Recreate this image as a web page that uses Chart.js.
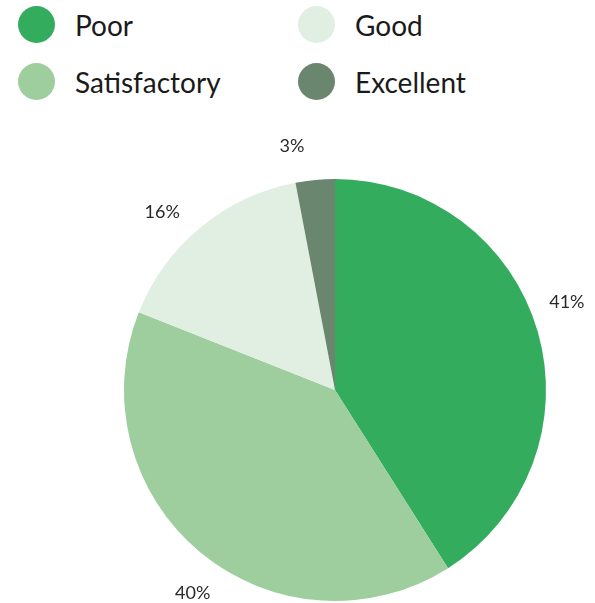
<!DOCTYPE html>
<html>
<head>
<meta charset="utf-8">
<script src="https://cdn.jsdelivr.net/npm/chart.js@4"></script>
<style>
  html, body { margin: 0; padding: 0; background: #fff; overflow: hidden; }
  body { width: 595px; height: 603px; position: relative; font-family: "Lato", sans-serif; }
  #legend { position: absolute; left: 18px; top: 6px; display: grid;
    grid-template-columns: 280px 280px; row-gap: 20px; }
  .item { display: flex; align-items: center; height: 37px; font-size: 28px; color: #1a1a1a; }
  .dot { width: 37px; height: 37px; border-radius: 50%; margin-right: 20px; }
  #wrap { position: absolute; left: 75px; top: 130px; width: 520px; height: 520px; }
</style>
</head>
<body>
<div id="legend"></div>
<div id="wrap"><canvas id="pieChart"></canvas></div>
<script>
// rating shares (%)
const labels = ["Poor", "Satisfactory", "Good", "Excellent"];
const values = [41, 40, 16, 3];
const colors = ["#34AC5E", "#9ECD9E", "#E0EFE1", "#6B866E"];

// legend laid out in two columns: Poor / Good on top, Satisfactory / Excellent below
const legendOrder = [0, 2, 1, 3];
const legendEl = document.getElementById("legend");
legendOrder.forEach((i) => {
  const item = document.createElement("div");
  item.className = "item";
  item.innerHTML = '<span class="dot" style="background:' + colors[i] + '"></span>' + labels[i];
  legendEl.appendChild(item);
});

// percentage labels outside each slice, nudged slightly counter-clockwise
const outsideLabels = {
  id: "outsideLabels",
  afterDatasetsDraw(chart) {
    const { ctx } = chart;
    const meta = chart.getDatasetMeta(0);
    ctx.save();
    ctx.font = "18px Lato, sans-serif";
    ctx.fillStyle = "#2a2a2a";
    ctx.textAlign = "center";
    ctx.textBaseline = "middle";
    meta.data.forEach((arc, i) => {
      const mid = (arc.startAngle + arc.endAngle) / 2 - 0.08;
      const r = arc.outerRadius + 37;
      ctx.fillText(values[i] + "%", arc.x + Math.cos(mid) * r, arc.y + Math.sin(mid) * r);
    });
    ctx.restore();
  },
};

const ctx = document.getElementById("pieChart").getContext("2d");
new Chart(ctx, {
  type: "pie",
  data: {
    labels: labels,
    datasets: [
      {
        data: values,
        backgroundColor: colors,
        borderWidth: 0,
      },
    ],
  },
  options: {
    responsive: true,
    maintainAspectRatio: false,
    animation: false,
    layout: { padding: 49 },
    plugins: {
      legend: { display: false },
      tooltip: { enabled: false },
    },
  },
  plugins: [outsideLabels],
});
</script>
</body>
</html>
